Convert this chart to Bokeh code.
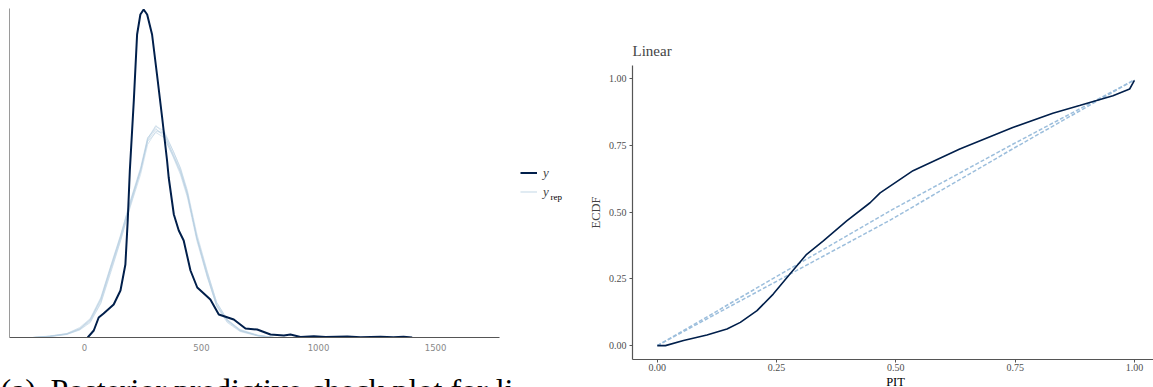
import numpy as np
from bokeh.plotting import figure
from bokeh.layouts import row, column
from bokeh.models import Legend, LegendItem, Label, FixedTicker, Range1d
from bokeh.embed import file_html
from bokeh.resources import INLINE

# ---------------- data: posterior predictive density overlay ----------------
# observed y density (relative density units, read from picture)
y_x = [14, 40, 61, 82, 125, 154, 175, 185, 194, 211, 225, 239, 253, 268, 289, 310,
       332, 353, 360, 382, 403, 424, 453, 482, 538, 574, 638, 688, 738, 795, 852,
       880, 923, 980, 1030, 1123, 1180, 1265, 1320, 1363, 1400]
y_dens = [0, 7, 20, 24, 33, 47, 73, 117, 167, 237, 303, 323, 328, 323, 303, 263,
          220, 177, 160, 123, 107, 97, 67, 50, 38, 23, 18, 9, 8, 3, 2,
          3, 0.5, 1.2, 0.4, 1.0, 0.3, 0.8, 0.3, 0.8, 0]

# replicated y_rep densities
rep_x = [-220, -150, -75, -20, 25, 70, 110, 155, 195, 240, 270, 305, 340, 380,
         410, 440, 480, 525, 565, 610, 665, 740, 810]
rep_1 = [0, 1, 3.4, 8.4, 17, 37, 67, 100, 133, 167, 197, 208, 203, 183, 167, 143, 100, 63, 33, 17, 7, 2, 0]
rep_2 = [0, 1.5, 4, 10, 19, 40, 70, 103, 135, 168, 196, 205, 200, 181, 165, 142, 101, 65, 35, 18, 8, 2.5, 0]
rep_3 = [0, 0.8, 3, 7.5, 15, 34, 63, 97, 131, 166, 198, 211, 207, 186, 169, 145, 99, 61, 31, 15, 6, 1.5, 0]
rep_4 = [0, 1.2, 3.8, 9, 18, 38, 69, 102, 136, 170, 200, 209, 201, 180, 163, 140, 97, 60, 32, 17, 7.5, 2, 0]
rep_5 = [0, 1, 3.2, 8, 16, 35, 65, 98, 130, 163, 193, 206, 205, 186, 170, 147, 104, 66, 35, 18, 7, 2, 0]
rep_6 = [0, 1.3, 3.6, 8.8, 18, 39, 68, 101, 134, 168, 199, 212, 204, 182, 166, 144, 100, 62, 32, 16, 6.5, 1.8, 0]
rep_series = [rep_1, rep_2, rep_3, rep_4, rep_5, rep_6]

dens_ticks = [0, 500, 1000, 1500]
legend_labels = ["y", "y"]
legend_sub = "rep"
caption_tag = "(a)"
caption = "Posterior predictive check plot for li"

# ---------------- data: PIT ECDF ----------------
pit = [0, 0.017, 0.055, 0.104, 0.146, 0.174, 0.209, 0.243, 0.278, 0.313, 0.348,
       0.397, 0.446, 0.467, 0.536, 0.634, 0.745, 0.829, 0.885, 0.955, 0.99, 1.0]
ecdf = [0, 0, 0.019, 0.04, 0.062, 0.087, 0.131, 0.193, 0.268, 0.342, 0.392,
        0.467, 0.535, 0.572, 0.655, 0.736, 0.817, 0.87, 0.899, 0.936, 0.961, 0.993]
ref_pit = [0, 0.487, 0.745, 1.0]
ref_upper = [0, 0.504, 0.754, 0.995]
ref_lower = [0, 0.469, 0.737, 0.995]
ecdf_ticks = [0, 0.25, 0.5, 0.75, 1.0]
ecdf_tick_labels = ["0.00", "0.25", "0.50", "0.75", "1.00"]

DARK = "#011f4b"
LIGHT = "#b3cde0"
DASH = "#9cbedc"
SERIF = "Liberation Serif"


def blank(width, height):
    f = figure(width=width, height=height, x_range=Range1d(0, width), y_range=Range1d(0, height),
               output_backend="svg", toolbar_location=None,
               x_axis_location=None, y_axis_location=None,
               min_border_left=0, min_border_right=0, min_border_top=0, min_border_bottom=0)
    f.outline_line_color = None
    f.grid.visible = False
    f.frame_align = False
    return f


# ---------------- left panel ----------------
left = figure(width=505, height=358, x_range=Range1d(-320, 1773), y_range=Range1d(0, 329),
              output_backend="svg", toolbar_location=None,
              min_border_left=9, min_border_right=6, min_border_top=8, min_border_bottom=21)
left.outline_line_color = None
left.grid.visible = False
left.frame_align = False

for r in rep_series:
    left.line(rep_x, r, color=LIGHT, line_width=0.8, line_alpha=0.65)
left.line(y_x, y_dens, color=DARK, line_width=2)

xa = left.xaxis[0]
xa.ticker = FixedTicker(ticks=dens_ticks)
xa.major_tick_out = 0
xa.major_tick_in = 0
xa.minor_tick_out = 0
xa.minor_tick_in = 0
xa.axis_line_color = "#555555"
xa.major_label_text_font = "DejaVu Sans"
xa.major_label_text_font_size = "8.5px"
xa.major_label_text_color = "#888888"
xa.major_label_standoff = 6

ya = left.yaxis[0]
ya.ticker = FixedTicker(ticks=[])
ya.major_label_text_font_size = "0px"
ya.major_tick_out = 0
ya.minor_tick_out = 0
ya.major_label_standoff = 0
ya.axis_line_color = "#9a9a9a"

# legend panel (keys are proxy renderers without visible data)
legfig = blank(70, 358)
nan_pt = np.array([np.nan])
k_y = legfig.line(nan_pt, nan_pt, color=DARK, line_width=2)
k_rep = legfig.line(nan_pt, nan_pt, color=LIGHT, line_width=1, line_alpha=0.8)
leg = Legend(items=[LegendItem(label=legend_labels[0], renderers=[k_y]),
                    LegendItem(label=legend_labels[1], renderers=[k_rep])],
             location=(15, 157), orientation="vertical",
             glyph_width=17, glyph_height=19, label_height=19, label_standoff=6,
             spacing=0, padding=0, margin=0, border_line_color=None,
             background_fill_alpha=0, label_text_font=SERIF,
             label_text_font_style="italic", label_text_font_size="13px")
legfig.add_layout(leg)
legfig.add_layout(Label(x=45, y=162, text=legend_sub, text_font=SERIF, text_font_size="9px",
                        text_baseline="alphabetic", text_color="black"))

# caption strip under the left panel
capfig = blank(575, 29)
capfig.add_layout(Label(x=0, y=-2, text=caption_tag, text_font=SERIF, text_font_size="32px",
                        text_baseline="alphabetic", text_color="black"))
capfig.add_layout(Label(x=50, y=-2, text=caption, text_font=SERIF, text_font_size="32px",
                        text_baseline="alphabetic", text_color="black"))

# ---------------- right panel ----------------
right = figure(width=578, height=376, x_range=Range1d(-0.052, 1.040), y_range=Range1d(-0.052, 1.049),
               output_backend="svg", toolbar_location=None, title="Linear",
               min_border_left=57, min_border_right=0, min_border_top=65, min_border_bottom=17)
right.outline_line_color = None
right.grid.visible = False
right.frame_align = False
right.title.text_font = SERIF
right.title.text_font_size = "15px"
right.title.text_font_style = "normal"
right.title.align = "left"
right.title.standoff = 13

right.line(ref_pit, ref_upper, color=DASH, line_width=1.5, line_dash="4 2")
right.line(ref_pit, ref_lower, color=DASH, line_width=1.5, line_dash="4 2")
right.line(pit, ecdf, color=DARK, line_width=1.6)

for ax in (right.xaxis[0], right.yaxis[0]):
    ax.ticker = FixedTicker(ticks=ecdf_ticks)
    ax.major_label_overrides = dict(zip(ecdf_ticks, ecdf_tick_labels))
    ax.major_tick_out = 3
    ax.major_tick_in = 0
    ax.minor_tick_out = 0
    ax.minor_tick_in = 0
    ax.axis_line_color = "#555555"
    ax.axis_line_width = 1.2
    ax.major_tick_line_color = "#555555"
    ax.major_label_text_font = SERIF
    ax.major_label_text_font_size = "10px"
    ax.major_label_text_color = "#4d4d4d"
    ax.major_label_standoff = 1

right.yaxis[0].major_label_standoff = 3
right.yaxis[0].axis_label = "ECDF"
right.yaxis[0].axis_label_text_font = SERIF
right.yaxis[0].axis_label_text_font_size = "12.5px"
right.yaxis[0].axis_label_text_font_style = "normal"
right.yaxis[0].axis_label_standoff = 3

pitfig = blank(578, 11)
pitfig.add_layout(Label(x=320, y=6.5, text="PIT", text_font=SERIF, text_font_size="12.5px",
                        text_align="center", text_baseline="middle", text_color="black"))

layout = row(column(row(left, legfig), capfig), column(right, pitfig))

with open("out.html", "w") as f:
    f.write(file_html(layout, INLINE))
